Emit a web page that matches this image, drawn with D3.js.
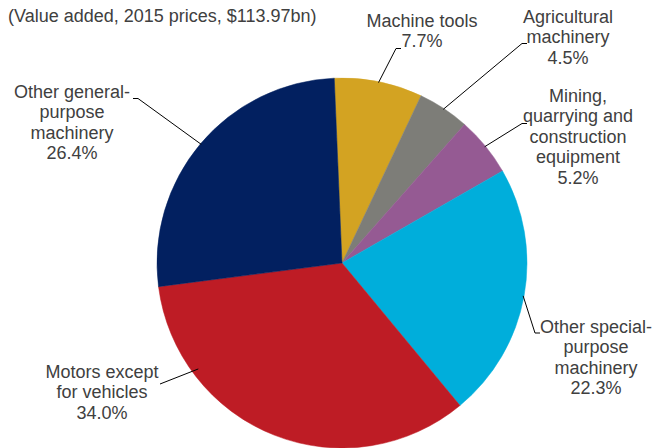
<!DOCTYPE html>
<html>
<head>
<meta charset="utf-8">
<script src="https://cdn.jsdelivr.net/npm/d3@7"></script>
<style>
  html, body { margin: 0; padding: 0; background: #ffffff; overflow: hidden; }
  text { font-family: "Liberation Sans", Arial, sans-serif; }
</style>
</head>
<body>
<svg id="chart" width="665" height="448"></svg>
<script>
// Machinery value added by segment, share of total (%)
const categories = [
  "Machine tools",
  "Agricultural machinery",
  "Mining, quarrying and construction equipment",
  "Other special-purpose machinery",
  "Motors except for vehicles",
  "Other general-purpose machinery"
];
const shares = [7.7, 4.5, 5.2, 22.3, 34.0, 26.4];
const sliceColors = ["#D3A322", "#7D7D78", "#955A93", "#00AEDB", "#BE1C25", "#022060"];
// Category names as they are wrapped in the labels
const labelLines = [
  ["Machine tools"],
  ["Agricultural", "machinery"],
  ["Mining,", "quarrying and", "construction", "equipment"],
  ["Other special-", "purpose", "machinery"],
  ["Motors except", "for vehicles"],
  ["Other general-", "purpose", "machinery"]
];
const subtitle = "(Value added, 2015 prices, $113.97bn)";

const svg = d3.select("#chart");
const W = 665, H = 448;
const cx = 342, cy = 263, R = 185;
const deg = d => d * Math.PI / 180;
const fmt = v => d3.format(".1f")(v) + "%";

// Subtitle
svg.append("text")
  .attr("x", 8).attr("y", 22)
  .attr("font-size", 18).attr("fill", "#404040")
  .text(subtitle);

// Pie, clockwise from just left of 12 o'clock
const pie = d3.pie().sort(null).value(d => d)
  .startAngle(deg(-2.4)).endAngle(deg(357.6));
const arcs = pie(shares);
const arc = d3.arc().innerRadius(0).outerRadius(R);

const g = svg.append("g").attr("transform", `translate(${cx},${cy})`);
g.selectAll("path.slice")
  .data(arcs)
  .join("path")
  .attr("class", "slice")
  .attr("d", arc)
  .attr("fill", (d, i) => sliceColors[i])
  .attr("stroke", (d, i) => sliceColors[i])
  .attr("stroke-width", 0.5);

// Label placement: text centre, first baseline, leader tick and where it meets the pie
const lineH = 20.4;
const labelLayout = [
  { x: 422, y: 27, tick: [401, 396, 48.5] },
  { x: 568, y: 23, tick: [527, 522, 43.5] },
  { x: 578, y: 102, tick: [527, 522, 123.5] },
  { x: 596, y: 333, tick: [540, 535, 333] },
  { x: 102, y: 378, tick: [160, 160, 384], angle: 233.6, rf: 0.965 },
  { x: 72, y: 98, tick: [133, 138, 98.5] }
];

const pointAt = (a, r) => [cx + r * Math.sin(a), cy - r * Math.cos(a)];

arcs.forEach((d, i) => {
  const L = labelLayout[i];
  const a = L.angle !== undefined ? deg(L.angle) : (d.startAngle + d.endAngle) / 2;
  const end = pointAt(a, R * (L.rf || 0.995));
  const [x0, x1, ty] = L.tick;
  svg.append("path")
    .attr("d", d3.line()([[x0, ty], [x1, ty], end]))
    .attr("fill", "none")
    .attr("stroke", "#000000")
    .attr("stroke-width", 1);

  const lines = labelLines[i].concat([fmt(shares[i])]);
  const t = svg.append("text")
    .attr("text-anchor", "middle")
    .attr("font-size", 18)
    .attr("fill", "#404040");
  lines.forEach((s, k) => {
    t.append("tspan").attr("x", L.x).attr("y", L.y + k * lineH).text(s);
  });
});
</script>
</body>
</html>
